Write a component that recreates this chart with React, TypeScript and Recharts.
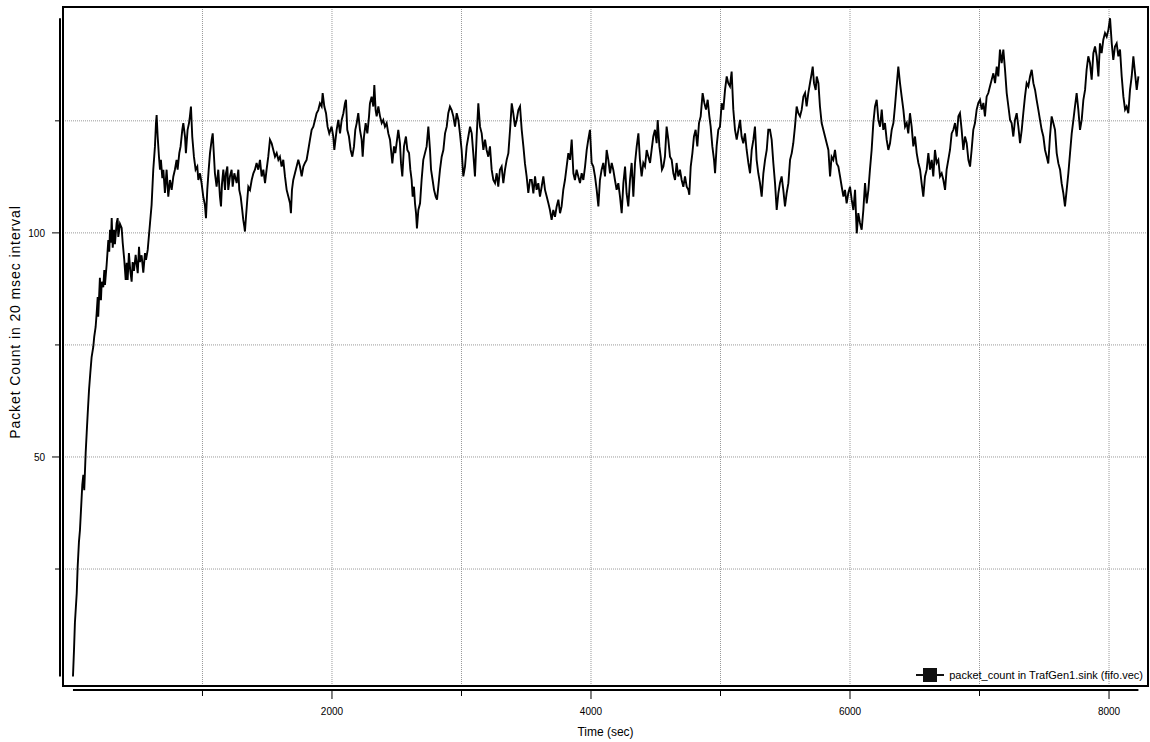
import {
  LineChart,
  Line,
  XAxis,
  YAxis,
  CartesianGrid,
  ReferenceLine,
  ReferenceArea,
  Legend,
} from "recharts";

const FONT = '"Liberation Sans", Arial, sans-serif';

// axis ticks (only every other one carries a label)
const timeTicks = [1000, 2000, 3000, 4000, 5000, 6000, 7000, 8000];
const timeLabels = [2000, 4000, 6000, 8000];
const countTicks = [25, 50, 75, 100, 125];
const countLabels = [50, 100];

// [time (sec), packets per 20 msec]
const warmup: [number, number][] = [
  [0, 1], [8, 7], [15, 13], [29, 19.6], [36, 25.4], [46, 31], [54, 33.7], [62, 38.2],
  [72, 43.8], [80, 46], [87, 42.6], [98, 50.9], [106, 55.4], [114, 59.8], [124, 65],
  [134, 68.8], [144, 72.3], [157, 74.6], [164, 76.8], [175, 79], [183, 82.1], [191, 85.7],
  [195, 81.3], [208, 90], [216, 85], [222, 89.1], [234, 87.9], [242, 91.7], [247, 88.4],
  [260, 92.9], [273, 98.4], [280, 95.8], [286, 100.7], [293, 97.8], [299, 103.3],
  [307, 96.7], [317, 100.7], [324, 97.5], [337, 102.2], [345, 103.3], [350, 99.1],
  [363, 102], [376, 101.1], [384, 97.8], [396, 94], [407, 89.5], [415, 93.3], [422, 89.5],
  [432, 95.5], [442, 91.7], [453, 89.1], [461, 93.5], [471, 91.5], [484, 95.1], [500, 91],
  [510, 96.9], [517, 93.5], [530, 95], [543, 91.1], [556, 95.5], [564, 94], [577, 96.2],
];

const upTo2000: [number, number][] = [
  [595, 102.2], [607, 106.2], [620, 114.1], [633, 119.3], [641, 124.5], [646, 126.3],
  [654, 121.5], [664, 117], [672, 114.1], [679, 116.3], [690, 112.2], [698, 114.1],
  [710, 108.9], [723, 114.1], [736, 108.1], [749, 111.8], [762, 109.6], [775, 112.6],
  [787, 114.1], [800, 116.3], [808, 114.1], [821, 117.8], [831, 119.3], [844, 123],
  [852, 124.5], [865, 121.5], [872, 117.8], [885, 123], [896, 124.5], [903, 126],
  [911, 128.2], [921, 121.5], [934, 117], [947, 114.1], [960, 114.8], [968, 111.8],
  [981, 113.3], [993, 111.1], [1006, 108.1], [1019, 106.2], [1027, 103.3], [1037, 109.6],
  [1048, 114.1], [1058, 117.8], [1071, 120.8], [1079, 122.2], [1089, 117], [1096, 113.3],
  [1109, 110.3], [1122, 114.1], [1135, 108.1], [1143, 105.9], [1151, 111.1], [1161, 114.1],
  [1174, 109.6], [1181, 113.3], [1192, 114.8], [1199, 109.6], [1212, 112.6], [1225, 114.1],
  [1233, 110.3], [1246, 113.3], [1264, 111.1], [1277, 114.1], [1284, 109.6], [1295, 108.1],
  [1307, 105.1], [1315, 102.9], [1323, 101.4], [1328, 100.3], [1336, 103.6], [1346, 107.4],
  [1354, 110.3], [1367, 109.6], [1380, 111.8], [1393, 113.3], [1405, 114.1], [1418, 115.6],
  [1431, 114.1], [1444, 116.3], [1457, 112.6], [1470, 114.1], [1483, 111.1], [1495, 114.1],
  [1508, 117], [1521, 120.8], [1534, 120], [1547, 118.5], [1560, 117], [1573, 117.8],
  [1586, 116.3], [1598, 117], [1611, 114.8], [1624, 116.3], [1637, 112.6], [1650, 109.6],
  [1663, 108.1], [1676, 106.6], [1683, 104.4], [1691, 109.6], [1701, 111.8], [1714, 113.3],
  [1727, 114.8], [1740, 116.3], [1753, 114.8], [1766, 112.6], [1779, 114.8], [1791, 115.6],
  [1804, 116.3], [1817, 118.5], [1830, 120.8], [1843, 123], [1856, 123.7], [1869, 125.2],
  [1881, 126.7], [1894, 127.4], [1907, 128.9], [1920, 128.2], [1928, 131.2], [1941, 128.2],
  [1954, 126.7], [1966, 123.7], [1979, 122.2], [1997, 123.7], [2010, 121.5], [2018, 118.5],
  [2036, 123], [2049, 125.2], [2062, 122.2],
];

const upTo3500: [number, number][] = [
  [2075, 125.2], [2088, 126.7], [2100, 128.9], [2108, 129.7], [2118, 123], [2131, 121.5],
  [2144, 118.5], [2157, 117], [2170, 119.3], [2180, 123], [2191, 124.5], [2203, 126.7],
  [2216, 123], [2229, 120.8], [2237, 117], [2247, 121.5], [2260, 124.5], [2273, 122.2],
  [2286, 126], [2293, 128.9], [2306, 130.4], [2319, 128.2], [2327, 133], [2337, 127.4],
  [2345, 126], [2358, 128.2], [2371, 126], [2384, 124.5], [2396, 125.2], [2409, 123.7],
  [2422, 124.5], [2435, 122.2], [2448, 120.8], [2456, 118.5], [2466, 115.5], [2479, 119.3],
  [2489, 117.8], [2499, 120], [2512, 123], [2525, 120], [2533, 115.5], [2543, 112.6],
  [2556, 119.3], [2571, 121.5], [2582, 118.5], [2595, 117.8], [2605, 114.1], [2615, 111.8],
  [2623, 108.1], [2633, 110.3], [2641, 106.6], [2649, 104.4], [2656, 101], [2667, 105.1],
  [2680, 106.6], [2692, 111.8], [2705, 116.3], [2718, 117.8], [2731, 119.3], [2744, 123.7],
  [2757, 118.5], [2765, 114.1], [2777, 111.8], [2788, 109.6], [2801, 108.1], [2811, 107.4],
  [2821, 110.3], [2834, 114.1], [2847, 117], [2860, 118.5], [2873, 122.2], [2886, 123.7],
  [2898, 126.7], [2911, 128.2], [2924, 127.4], [2937, 126], [2950, 123.7], [2963, 126.7],
  [2976, 125.2], [2988, 122.2], [3001, 118.5], [3014, 112.6], [3027, 114.8], [3040, 119.3],
  [3053, 121.5], [3066, 123.7], [3079, 122.2], [3091, 117.8], [3104, 112.6], [3117, 121.5],
  [3130, 128.9], [3143, 123.7], [3156, 122.2], [3169, 118.5], [3182, 120.8], [3194, 118.5],
  [3207, 117], [3220, 119.3], [3233, 114.1], [3246, 111.8], [3259, 111.1], [3272, 113.3],
  [3284, 110.3], [3297, 114.1], [3310, 114.8], [3323, 111.1], [3336, 114.1], [3349, 116.3],
  [3362, 117.8], [3375, 123], [3388, 128.9], [3400, 126.7], [3413, 123.7], [3426, 125.2],
  [3439, 127.4], [3452, 128.2], [3465, 123], [3478, 119.3], [3490, 115.5], [3503, 112.6],
  [3516, 108.9], [3529, 111.8],
];

const upTo5000: [number, number][] = [
  [3542, 111.8], [3555, 108.8], [3568, 112.6], [3580, 109.6], [3593, 111.1], [3606, 108.1],
  [3619, 110.3], [3632, 112.6], [3645, 109.6], [3658, 108.1], [3671, 106.6], [3683, 105.1],
  [3696, 102.9], [3709, 105.1], [3722, 103.6], [3735, 105.9], [3748, 107.4], [3761, 104.4],
  [3773, 105.9], [3786, 109.6], [3799, 111.8], [3812, 114.8], [3825, 117.8], [3838, 116.3],
  [3851, 120.8], [3864, 113.3], [3876, 111.8], [3889, 114.1], [3902, 112.6], [3915, 111.1],
  [3928, 113.3], [3941, 111.8], [3954, 114.8], [3967, 118.5], [3979, 120.8], [3992, 123],
  [4005, 115.6], [4018, 114.8], [4031, 112.6], [4044, 109.6], [4057, 105.9], [4069, 111.8],
  [4082, 114.1], [4095, 115.6], [4108, 112.6], [4121, 118.5], [4134, 116.3], [4147, 113.3],
  [4160, 115.6], [4172, 114.1], [4185, 111.8], [4198, 109.6], [4211, 111.1], [4224, 108.1],
  [4237, 104.4], [4250, 111.1], [4263, 114.8], [4275, 108.8], [4288, 105.9], [4301, 111.8],
  [4314, 115.6], [4327, 108.1], [4340, 115.6], [4353, 119.3], [4366, 122.2], [4378, 116.3],
  [4391, 112.6], [4404, 115.6], [4417, 114.8], [4430, 118.5], [4443, 117], [4456, 115.6],
  [4468, 118.5], [4481, 121.5], [4494, 123], [4507, 120], [4515, 125.2], [4528, 119.3],
  [4538, 117], [4548, 114.1], [4559, 114.8], [4571, 117], [4584, 123.7], [4597, 120.8],
  [4610, 117], [4623, 116.3], [4636, 113.3], [4649, 111.8], [4661, 115.6], [4674, 112.6],
  [4687, 114.1], [4700, 111.8], [4713, 110.3], [4726, 112.6], [4739, 110.3], [4752, 109.6],
  [4759, 108.5], [4770, 114.8], [4783, 117.8], [4795, 121.5], [4808, 123], [4821, 119.3],
  [4834, 124.5], [4847, 126], [4862, 131.2], [4875, 129], [4888, 127.5], [4901, 129.7],
  [4914, 126], [4924, 123.7], [4937, 119.3], [4950, 116.3], [4958, 113.3], [4970, 119.3],
  [4983, 123], [4996, 123.7],
];

const upTo6600: [number, number][] = [
  [5009, 128.9], [5022, 127.5], [5035, 131.9], [5048, 134.9], [5060, 133.4], [5073, 132.7],
  [5086, 136], [5099, 127.5], [5112, 123], [5125, 120.8], [5138, 123], [5151, 125.2],
  [5163, 121.5], [5176, 120], [5189, 122.2], [5202, 118.5], [5215, 115.6], [5228, 113.3],
  [5241, 118.5], [5254, 120.8], [5266, 123.7], [5279, 116.3], [5292, 113.3], [5305, 111.1],
  [5318, 108.1], [5331, 113.3], [5344, 116.3], [5357, 118.5], [5369, 123], [5382, 123],
  [5395, 120.8], [5408, 115.6], [5421, 111.1], [5434, 105.1], [5447, 108.9], [5459, 111.1],
  [5472, 112.6], [5485, 109.6], [5498, 105.9], [5511, 108.9], [5524, 111.1], [5537, 116.3],
  [5550, 117.8], [5562, 120], [5575, 123.7], [5588, 128.2], [5601, 126.7], [5614, 126],
  [5627, 127.5], [5640, 130.4], [5653, 131.2], [5665, 128.2], [5678, 131.2], [5691, 133.4],
  [5704, 135.6], [5712, 137.1], [5722, 133.4], [5735, 131.9], [5743, 134.9], [5756, 133.4],
  [5768, 128.2], [5781, 124.5], [5794, 123], [5807, 121.5], [5820, 120], [5833, 118.5],
  [5846, 112.6], [5858, 117], [5871, 116.3], [5884, 118.5], [5897, 115.5], [5910, 114.8],
  [5923, 112.6], [5936, 110.3], [5949, 108.1], [5961, 109.6], [5974, 106.6], [5987, 108.9],
  [6000, 110.3], [6013, 107.4], [6026, 105.1], [6039, 109.6], [6052, 99.9], [6064, 104.4],
  [6077, 102.2], [6090, 100.7], [6103, 105.1], [6116, 111.1], [6129, 106.6], [6142, 109.6],
  [6154, 114.1], [6167, 118.5], [6180, 124.5], [6193, 128.2], [6206, 129.7], [6219, 125.2],
  [6232, 123.7], [6245, 127.5], [6257, 123], [6270, 124.5], [6283, 120.8], [6296, 118.5],
  [6309, 120], [6322, 123], [6335, 124.5], [6347, 128.2], [6360, 132.7], [6373, 137.1],
  [6386, 133.4], [6399, 130.4], [6412, 127.5], [6425, 123.7], [6438, 124.5], [6450, 122.2],
  [6463, 126.7], [6476, 123.7], [6489, 119.3], [6502, 121.5], [6515, 117.8], [6528, 115.6],
  [6541, 114.1], [6553, 111.1], [6566, 108.1], [6579, 112.6], [6592, 114.1], [6605, 117.8],
];

const upToEnd: [number, number][] = [
  [6618, 114.1], [6631, 116.3], [6643, 112.6], [6656, 118.5], [6669, 115.6], [6682, 116.3],
  [6695, 112.6], [6708, 113.3], [6721, 111.8], [6734, 109.6], [6746, 114.1], [6759, 116.3],
  [6772, 118.5], [6785, 122.2], [6798, 123], [6811, 124.5], [6824, 121.5], [6837, 126],
  [6849, 126.7], [6862, 123], [6875, 118.5], [6888, 121.5], [6901, 120], [6914, 116.3],
  [6927, 114.8], [6939, 118.5], [6952, 123], [6965, 124.5], [6978, 127.5], [6991, 129],
  [7004, 129.7], [7017, 127.5], [7030, 129], [7042, 126], [7055, 130.4], [7068, 131.2],
  [7081, 132.7], [7094, 134.2], [7107, 135.6], [7120, 133.4], [7133, 137.1], [7145, 134.9],
  [7158, 140.9], [7171, 137.9], [7184, 140.9], [7197, 136.4], [7210, 131.2], [7223, 128.2],
  [7236, 125.2], [7248, 124.5], [7261, 121.5], [7274, 125.2], [7287, 126.7], [7300, 123.7],
  [7313, 120], [7326, 123], [7338, 126.7], [7351, 130.4], [7364, 133.4], [7377, 132.7],
  [7390, 134.9], [7403, 136.4], [7416, 133.4], [7429, 131.9], [7441, 129.7], [7454, 127.5],
  [7467, 125.2], [7480, 123], [7493, 121.5], [7506, 118.5], [7519, 117], [7531, 115.5],
  [7544, 121.5], [7557, 126], [7570, 124.5], [7583, 123], [7596, 117.8], [7609, 115.5],
  [7622, 114.1], [7634, 111.1], [7647, 108.9], [7660, 105.9], [7673, 109.6], [7686, 113.3],
  [7699, 117.8], [7712, 122.2], [7725, 125.2], [7737, 128.2], [7750, 131.2], [7763, 127.5],
  [7776, 123], [7789, 125.2], [7802, 129.7], [7815, 131.9], [7827, 136.4], [7840, 139.4],
  [7853, 137.9], [7866, 134.2], [7879, 140.1], [7892, 141.6], [7905, 139.4], [7918, 134.9],
  [7930, 142.3], [7943, 140.1], [7956, 143.1], [7969, 144.6], [7982, 143.8], [7995, 145.3],
  [8008, 147.9], [8021, 142.3], [8033, 138.6], [8046, 141.6], [8059, 142.3], [8072, 139.4],
  [8085, 140.9], [8098, 134.9], [8111, 130.4], [8124, 127.5], [8136, 128.2], [8149, 126.7],
  [8162, 131.9], [8175, 134.9], [8188, 139.4], [8201, 135.6], [8214, 131.9], [8227, 134.9],
];

const series = [...warmup, ...upTo2000, ...upTo3500, ...upTo5000, ...upTo6600, ...upToEnd].map(
  ([t, c]) => ({ t, c })
);

const tFirst = series[0].t;
const tLast = series[series.length - 1].t;
const cMin = Math.min(...series.map((d) => d.c));
const cMax = Math.max(...series.map((d) => d.c));

// the plot frame is a little wider than the data extent
const timeDomain: [number, number] = [-77, 8301];
const countDomain: [number, number] = [-1.1, 150.4];

function TimeTick({ x, y, payload }: any) {
  const major = timeLabels.includes(payload.value);
  return (
    <g>
      <line x1={x} x2={x} y1={y + 4} y2={y + (major ? 13 : 10)} stroke="#000" />
      {major && (
        <text x={x} y={y + 29} textAnchor="middle" fontSize={10} fontFamily={FONT} fill="#000">
          {payload.value}
        </text>
      )}
    </g>
  );
}

function CountTick({ x, y, payload }: any) {
  const major = countLabels.includes(payload.value);
  return (
    <g>
      <line x1={x - (major ? 11 : 8)} x2={x - 3} y1={y} y2={y} stroke="#000" />
      {major && (
        <text x={x - 18} y={y + 4} textAnchor="end" fontSize={10} fontFamily={FONT} fill="#000">
          {payload.value}
        </text>
      )}
    </g>
  );
}

function LegendBox({ payload }: any) {
  const item = payload && payload[0];
  if (!item) return null;
  return (
    <div
      style={{
        display: "flex",
        alignItems: "center",
        height: 16,
        fontFamily: FONT,
        fontSize: 11,
        color: "#000",
        whiteSpace: "nowrap",
      }}
    >
      <svg width={28} height={16}>
        <line x1={0} x2={28} y1={8} y2={8} stroke="#111" strokeWidth={2} />
        <rect x={7} y={1} width={14} height={14} fill="#111" />
      </svg>
      <span style={{ marginLeft: 5 }}>{item.value}</span>
    </div>
  );
}

export default function App() {
  return (
    <div style={{ position: "absolute", left: 0, top: 0, width: 1150, height: 742, background: "#fff" }}>
      <LineChart width={1150} height={742} data={series} margin={{ top: 7, right: 2, bottom: 0, left: 0 }}>
        <CartesianGrid stroke="#999" strokeDasharray="1 1" />
        <XAxis
          dataKey="t"
          type="number"
          domain={timeDomain}
          allowDataOverflow
          ticks={timeTicks}
          interval={0}
          height={56}
          axisLine={false}
          tickLine={false}
          tickSize={0}
          tickMargin={0}
          tick={<TimeTick />}
          label={{
            value: "Time (sec)",
            position: "insideBottom",
            offset: 6,
            fontSize: 12,
            fill: "#000",
            fontFamily: FONT,
          }}
        />
        <YAxis
          type="number"
          domain={countDomain}
          allowDataOverflow
          ticks={countTicks}
          interval={0}
          width={63}
          axisLine={false}
          tickLine={false}
          tickSize={0}
          tickMargin={0}
          tick={<CountTick />}
          label={{
            value: "Packet Count in 20 msec interval",
            angle: -90,
            position: "center",
            dx: -16,
            dy: -24.5,
            fontSize: 14,
            letterSpacing: 0.9,
            fill: "#000",
            fontFamily: FONT,
          }}
        />
        <ReferenceArea
          x1={timeDomain[0]}
          x2={timeDomain[1]}
          y1={countDomain[0]}
          y2={countDomain[1]}
          fill="none"
          stroke="#000"
          strokeWidth={2}
          ifOverflow="visible"
        />
        <ReferenceLine
          segment={[
            { x: timeDomain[0], y: cMin },
            { x: timeDomain[0], y: cMax },
          ]}
          ifOverflow="visible"
          shape={(p: any) => (
            <line x1={p.x1 - 3} x2={p.x2 - 3} y1={p.y1} y2={p.y2} stroke="#000" strokeWidth={2} />
          )}
        />
        <ReferenceLine
          segment={[
            { x: tFirst, y: countDomain[0] },
            { x: tLast, y: countDomain[0] },
          ]}
          ifOverflow="visible"
          shape={(p: any) => (
            <line x1={p.x1} x2={p.x2} y1={p.y1 + 4} y2={p.y2 + 4} stroke="#000" strokeWidth={2} />
          )}
        />
        <Line
          type="linear"
          dataKey="c"
          name="packet_count in TrafGen1.sink (fifo.vec)"
          stroke="#000"
          strokeWidth={1.9}
          dot={false}
          activeDot={false}
          isAnimationActive={false}
        />
        <Legend
          layout="horizontal"
          align="center"
          verticalAlign="middle"
          wrapperStyle={{ right: 7, bottom: 59, width: "auto" }}
          content={<LegendBox />}
        />
      </LineChart>
    </div>
  );
}
